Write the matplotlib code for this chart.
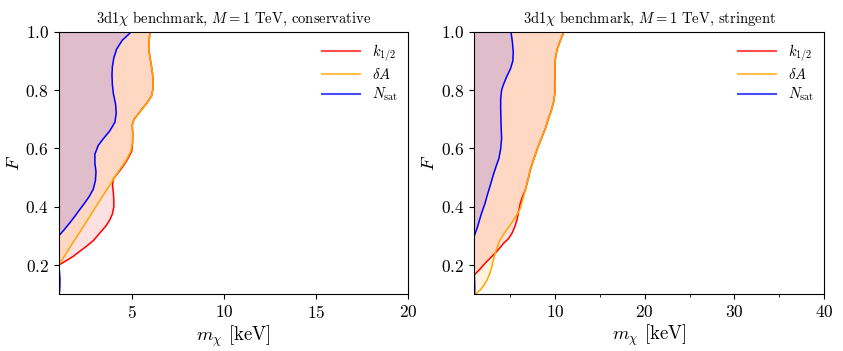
import matplotlib
matplotlib.use("Agg")
import matplotlib.pyplot as plt

plt.rcParams['font.family'] = 'serif'
plt.rcParams['font.serif'] = ['cmr10']
plt.rcParams['mathtext.fontset'] = 'cm'
plt.rcParams['axes.formatter.use_mathtext'] = True

# ---- conservative panel (F vs m_chi boundary) ----
cons_dA_F = [0.20, 0.25, 0.30, 0.35, 0.40, 0.45, 0.50, 0.53, 0.56, 0.59, 0.62, 0.65, 0.68, 0.70,
             0.72, 0.74, 0.76, 0.78, 0.80, 0.83, 0.86, 0.90, 0.94, 0.97, 1.00]
cons_dA_m = [1.00, 1.50, 2.01, 2.52, 3.02, 3.53, 4.03, 4.35, 4.68, 4.92, 5.02, 5.03, 5.00, 5.10,
             5.35, 5.60, 5.85, 6.05, 6.12, 6.14, 6.10, 6.00, 5.90, 5.92, 5.97]

cons_k_F = [0.200, 0.215, 0.230, 0.250, 0.265, 0.285, 0.310, 0.335, 0.355, 0.375, 0.400, 0.425,
            0.450, 0.475, 0.495, 0.530, 0.560, 0.590, 0.620, 0.650, 0.680, 0.700, 0.720, 0.740,
            0.760, 0.780, 0.800, 0.830, 0.860, 0.900, 0.940, 0.970, 1.000]
cons_k_m = [1.00, 1.40, 1.79, 2.20, 2.52, 2.90, 3.24, 3.58, 3.78, 3.92, 4.00, 4.00,
            3.97, 3.93, 3.97, 4.40, 4.72, 4.97, 5.02, 5.03, 5.00, 5.10, 5.35, 5.60,
            5.85, 6.05, 6.12, 6.14, 6.10, 6.00, 5.90, 5.92, 5.97]

cons_N_F = [0.300, 0.320, 0.343, 0.365, 0.389, 0.410, 0.435, 0.460, 0.490, 0.520, 0.550, 0.580,
            0.610, 0.635, 0.660, 0.690, 0.720, 0.750, 0.790, 0.820, 0.850, 0.880, 0.910, 0.940,
            0.970, 1.000]
cons_N_m = [1.00, 1.28, 1.58, 1.85, 2.13, 2.38, 2.66, 2.88, 3.00, 3.03, 2.97, 2.97,
            3.15, 3.45, 3.78, 4.06, 4.13, 4.10, 3.97, 3.92, 3.90, 3.92, 4.00, 4.15,
            4.45, 4.96]
cons_N_low_F = [0.10, 0.12, 0.15, 0.18, 0.20]
cons_N_low_m = [1.03, 1.06, 1.07, 1.04, 1.00]

# ---- stringent panel ----
str_dA_F = [0.100, 0.115, 0.130, 0.149, 0.170, 0.195, 0.220, 0.241, 0.260, 0.281, 0.300, 0.315,
            0.335, 0.355, 0.375, 0.395, 0.425, 0.457, 0.500, 0.526, 0.560, 0.600, 0.635, 0.670,
            0.700, 0.730, 0.760, 0.790, 0.820, 0.850, 0.880, 0.910, 0.940, 0.970, 1.000]
str_dA_m = [1.10, 1.67, 2.05, 2.42, 2.72, 2.96, 3.15, 3.33, 3.55, 3.79, 4.15, 4.46,
            4.95, 5.39, 5.80, 6.13, 6.40, 6.69, 7.05, 7.24, 7.60, 8.05, 8.50, 8.95,
            9.25, 9.60, 9.85, 10.00, 10.02, 10.00, 10.00, 10.05, 10.25, 10.60, 11.00]

str_k_F = [0.167, 0.185, 0.207, 0.225, 0.241, 0.258, 0.275, 0.290, 0.309, 0.330, 0.355, 0.385,
           0.412, 0.435, 0.457, 0.500, 0.526, 0.560, 0.600, 0.635, 0.670, 0.700, 0.730, 0.760,
           0.790, 0.820, 0.850, 0.880, 0.910, 0.940, 0.970, 1.000]
str_k_m = [1.00, 1.60, 2.23, 2.80, 3.33, 3.82, 4.27, 4.80, 5.20, 5.50, 5.76, 5.95,
           6.13, 6.38, 6.69, 7.05, 7.24, 7.60, 8.05, 8.50, 8.95, 9.25, 9.60, 9.85,
           10.00, 10.02, 10.00, 10.00, 10.05, 10.25, 10.60, 11.00]

str_N_F = [0.300, 0.330, 0.372, 0.412, 0.440, 0.475, 0.509, 0.540, 0.566, 0.600, 0.635, 0.670,
           0.703, 0.740, 0.772, 0.800, 0.817, 0.845, 0.874, 0.900, 0.931, 0.965, 1.000]
str_N_m = [1.00, 1.35, 1.75, 2.20, 2.45, 2.80, 3.12, 3.45, 3.75, 3.95, 4.05, 4.00,
           3.97, 3.94, 3.95, 4.05, 4.23, 4.60, 5.05, 5.30, 5.35, 5.25, 5.09]
str_N_low_F = [0.10, 0.12, 0.14, 0.16, 0.17]
str_N_low_m = [1.03, 1.05, 1.04, 1.02, 1.00]

panels = [
    dict(title=r"3d1$\chi$ benchmark, $M=1$ TeV, conservative",
         k=(cons_k_F, cons_k_m), dA=(cons_dA_F, cons_dA_m),
         N=(cons_N_F, cons_N_m), N_low=(cons_N_low_F, cons_N_low_m),
         xmax=20, xticks=[5, 10, 15, 20], xminor=[]),
    dict(title=r"3d1$\chi$ benchmark, $M=1$ TeV, stringent",
         k=(str_k_F, str_k_m), dA=(str_dA_F, str_dA_m),
         N=(str_N_F, str_N_m), N_low=(str_N_low_F, str_N_low_m),
         xmax=40, xticks=[10, 20, 30, 40], xminor=[5, 15, 25, 35]),
]

fig = plt.figure(figsize=(8.43, 3.51), dpi=100)
positions = [[0.0696, 0.1615, 0.4144, 0.7482], [0.5626, 0.1615, 0.4149, 0.7482]]
alpha_fill = 0.12

for pos, p in zip(positions, panels):
    ax = fig.add_axes(pos)
    xmin = 1.0
    ax.fill_betweenx(p['k'][0], xmin, p['k'][1], color='red', alpha=alpha_fill, lw=0)
    ax.fill_betweenx(p['dA'][0], xmin, p['dA'][1], color='orange', alpha=alpha_fill, lw=0)
    ax.fill_betweenx(p['N'][0], xmin, p['N'][1], color='blue', alpha=alpha_fill, lw=0)
    ax.fill_betweenx(p['N_low'][0], xmin, p['N_low'][1], color='blue', alpha=alpha_fill, lw=0)

    ax.plot(p['k'][1], p['k'][0], color='red', lw=1.1, label=r"$k_{1/2}$")
    ax.plot(p['dA'][1], p['dA'][0], color='orange', lw=1.1, label=r"$\delta A$")
    ax.plot(p['N'][1], p['N'][0], color='blue', lw=1.1, label=r"$N_{\rm sat}$")
    ax.plot(p['N_low'][1], p['N_low'][0], color='blue', lw=1.1)

    ax.set_xlim(xmin, p['xmax'])
    ax.set_ylim(0.1, 1.0)
    ax.set_xticks(p['xticks'])
    ax.set_xticks(p['xminor'], minor=True)
    ax.set_yticks([0.2, 0.4, 0.6, 0.8, 1.0])
    ax.tick_params(labelsize=12.5)
    ax.set_xlabel(r"$m_\chi$ [keV]", fontsize=13.5, labelpad=2)
    ax.set_ylabel(r"$F$", fontsize=13.5, labelpad=2)
    ax.set_title(p['title'], fontsize=10.5)

    leg = ax.legend(loc='upper right', frameon=False, fontsize=10.5, handlelength=2.6,
                    labelspacing=0.25, borderaxespad=0.3)
    for h in leg.legend_handles:
        h.set_alpha(0.7)
        h.set_linewidth(1.5)

plt.savefig("out.png", dpi=100)
plt.close()
